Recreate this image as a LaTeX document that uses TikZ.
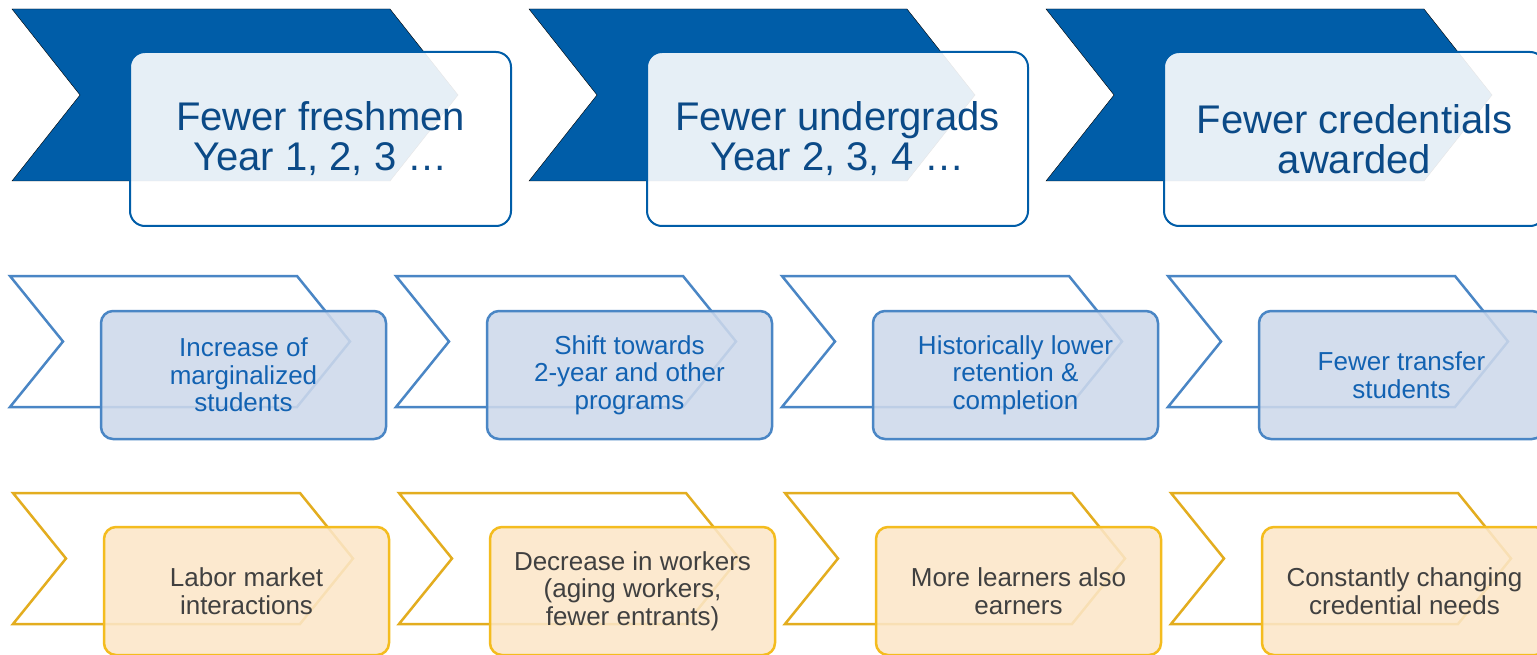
\documentclass[tikz,border=0pt]{standalone}
\usepackage{fontspec}
\setmainfont{Liberation Sans}
\definecolor{darkblue}{HTML}{005DA8}
\definecolor{navytext}{HTML}{0B4A87}
\definecolor{midblue}{HTML}{4A86C5}
\definecolor{paleblue}{HTML}{CED9EB}
\definecolor{bluetext}{HTML}{1262B2}
\definecolor{gold}{HTML}{E3AD1F}
\definecolor{boxgold}{HTML}{F4BC1F}
\definecolor{paleorange}{HTML}{FCE7C9}
\definecolor{greytext}{HTML}{404040}

\begin{document}
\begin{tikzpicture}[x=1pt, y=-1pt,
  topchev/.style={fill=darkblue},
  bluechev/.style={draw=midblue, line width=2.5pt, fill=white},
  goldchev/.style={draw=gold, line width=2.5pt, fill=white},
  topbox/.style={draw=darkblue, line width=2pt, fill=white, fill opacity=0.9, text opacity=1, rounded corners=15pt, minimum width=381pt, minimum height=174pt, text=navytext, align=center, font=\fontsize{40}{40}\selectfont},
  bluebox/.style={draw=midblue, line width=2.5pt, fill=paleblue, fill opacity=0.88, text opacity=1, rounded corners=12pt, minimum width=285pt, minimum height=128pt, text=bluetext, align=center, font=\fontsize{26}{27.5}\selectfont},
  goldbox/.style={draw=boxgold, line width=2.5pt, fill=paleorange, fill opacity=0.88, text opacity=1, rounded corners=12pt, minimum width=285pt, minimum height=128pt, text=greytext, align=center, font=\fontsize{26}{27.5}\selectfont}]

\clip (0,0) rectangle (1537,655);
\fill[white] (0,0) rectangle (1537,655);

\draw[topchev] (12,9) -- (390,9) -- (458,95) -- (390,181) -- (12,181) -- (80,95) -- cycle;
\draw[topchev] (529,9) -- (907,9) -- (975,95) -- (907,181) -- (529,181) -- (597,95) -- cycle;
\draw[topchev] (1046,9) -- (1424,9) -- (1492,95) -- (1424,181) -- (1046,181) -- (1114,95) -- cycle;

\node[topbox] (fresh) at (320.5,139) {Fewer freshmen\\Year 1, 2, 3 …};
\node[topbox] (under) at (837.5,139) {Fewer undergrads\\Year 2, 3, 4 …};
\node[topbox] (cred) at (1354.5,139) {Fewer credentials\\awarded};

\draw[bluechev] (10,276) -- (297,276) -- (350,341.5) -- (297,407) -- (10,407) -- (63,341.5) -- cycle;
\draw[bluechev] (396,276) -- (683,276) -- (736,341.5) -- (683,407) -- (396,407) -- (449,341.5) -- cycle;
\draw[bluechev] (782,276) -- (1069,276) -- (1122,341.5) -- (1069,407) -- (782,407) -- (835,341.5) -- cycle;
\draw[bluechev] (1168,276) -- (1455,276) -- (1508,341.5) -- (1455,407) -- (1168,407) -- (1221,341.5) -- cycle;

\node[bluebox] (margin) at (243.5,375) {Increase of\\marginalized\\students};
\node[bluebox] (shift) at (629.5,375) {Shift towards\\2-year and other\\programs};
\node[bluebox] (retain) at (1015.5,375) {Historically lower\\retention \&\\completion};
\node[bluebox] (transfer) at (1401.5,375) {Fewer transfer\\students};

\draw[goldchev] (13,493) -- (300,493) -- (353,558.5) -- (300,624) -- (13,624) -- (66,558.5) -- cycle;
\draw[goldchev] (399,493) -- (686,493) -- (739,558.5) -- (686,624) -- (399,624) -- (452,558.5) -- cycle;
\draw[goldchev] (785,493) -- (1072,493) -- (1125,558.5) -- (1072,624) -- (785,624) -- (838,558.5) -- cycle;
\draw[goldchev] (1171,493) -- (1458,493) -- (1511,558.5) -- (1458,624) -- (1171,624) -- (1224,558.5) -- cycle;

\node[goldbox] (labor) at (246.5,591) {Labor market\\interactions};
\node[goldbox] (workers) at (632.5,591) {Decrease in workers\\(aging workers,\\fewer entrants)};
\node[goldbox] (earners) at (1018.5,591) {More learners also\\earners};
\node[goldbox] (needs) at (1404.5,591) {Constantly changing\\credential needs};

\end{tikzpicture}
\end{document}
